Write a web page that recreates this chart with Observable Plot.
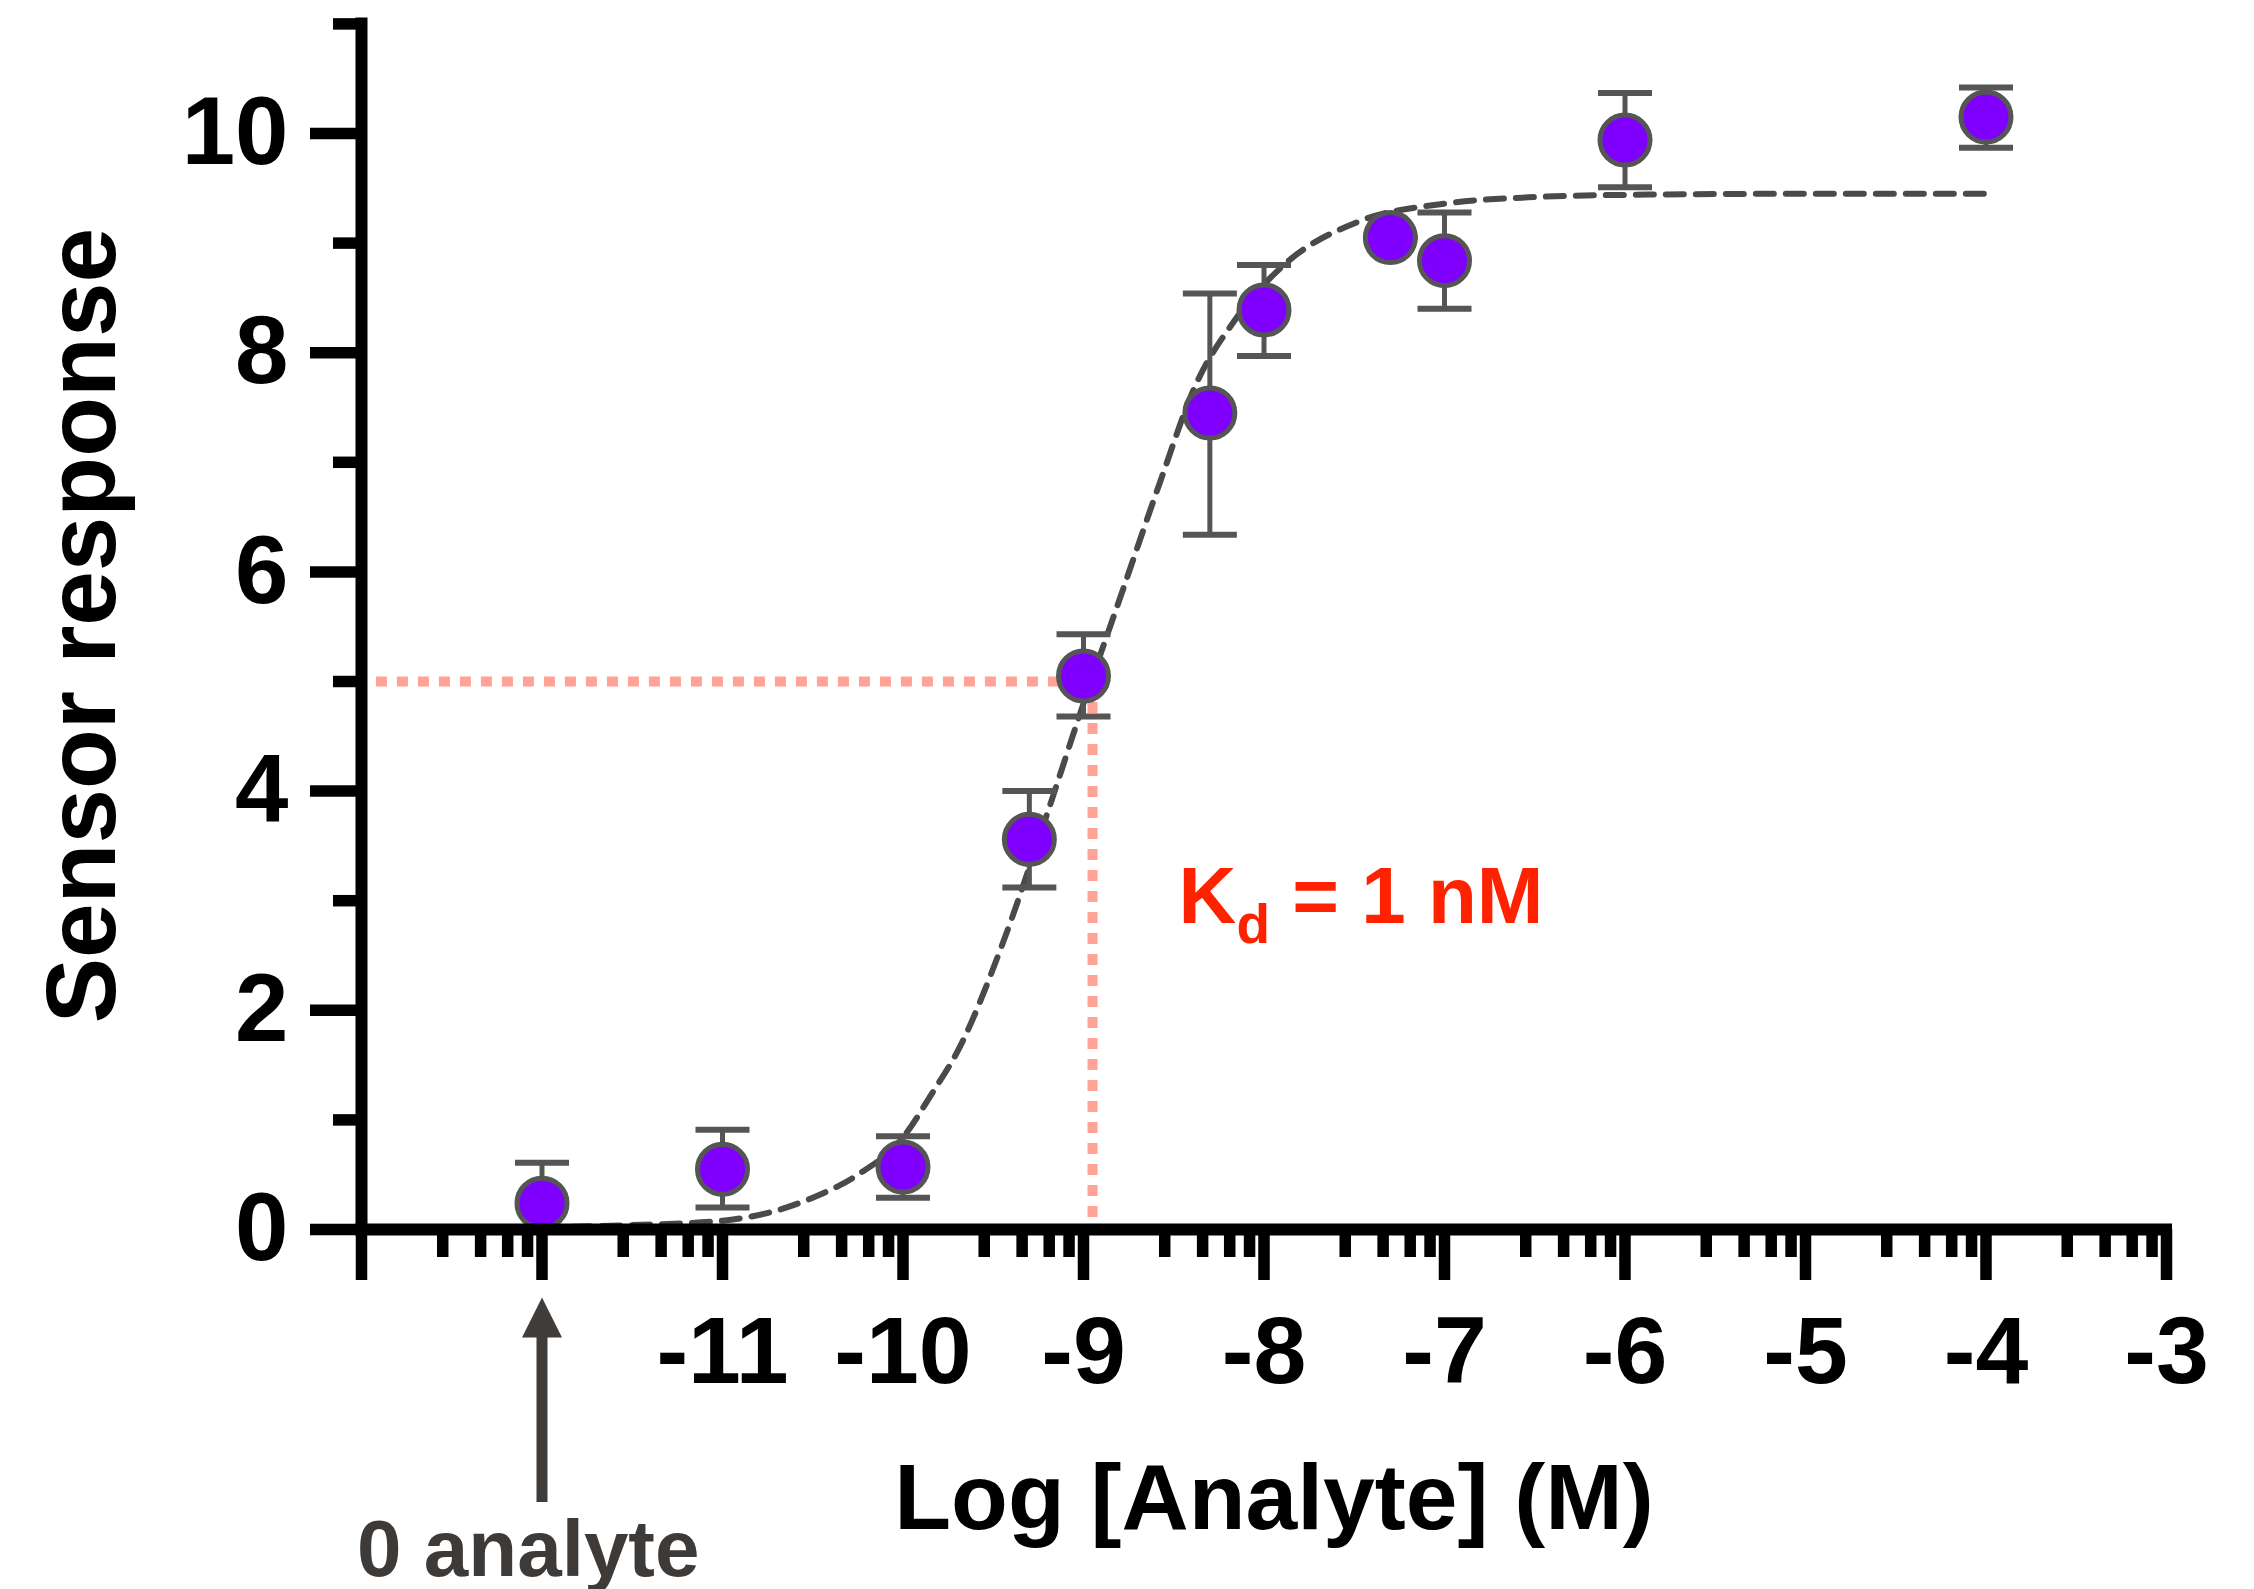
<!DOCTYPE html>
<html>
<head>
<meta charset="utf-8">
<script src="https://cdn.jsdelivr.net/npm/d3@7"></script>
<script src="https://cdn.jsdelivr.net/npm/@observablehq/plot@0.6"></script>
<style>
  html, body { margin: 0; padding: 0; background: #ffffff; }
</style>
</head>
<body>
<div id="chart"></div>
<script>
// ---- measured data (log10 of analyte concentration, sensor response) ----
const logConc  = [-12, -11, -10, -9.3, -9, -8.3, -8, -7.3, -7, -6, -4];
const response = [0.24, 0.55, 0.57, 3.56, 5.05, 7.45, 8.39, 9.05, 8.84, 9.94, 10.15];
const errHigh  = [0.61, 0.91, 0.85, 4.00, 5.43, 8.54, 8.80, 9.05, 9.28, 10.37, 10.42];
const errLow   = [0.00, 0.20, 0.29, 3.12, 4.68, 6.34, 7.97, 9.05, 8.40, 9.51, 9.87];

// ---- fitted curve ----
const fitX = [-12, -11.5, -11, -10.5, -10.25, -10, -9.84, -9.69, -9.45, -9.2, -9.0, -8.8, -8.58, -8.38, -8.16, -7.89, -7.47, -7, -6.5, -6, -5, -4];
const fitY = [0.02, 0.04, 0.08, 0.29, 0.5, 0.84, 1.24, 1.65, 2.6, 3.8, 4.8, 5.75, 6.8, 7.7, 8.3, 8.8, 9.2, 9.36, 9.42, 9.44, 9.45, 9.45];

// ---- axes ----
const xDomain = [-13, -3];
const yDomain = [0, 11];
const xMajorTicks = [-13, -12, -11, -10, -9, -8, -7, -6, -5, -4, -3];
const xTickLabels = [-11, -10, -9, -8, -7, -6, -5, -4, -3];
const xMinorFractions = [0.45, 0.66, 0.81, 0.92];
const xMinorTicks = xMajorTicks.slice(0, -1).flatMap(d => xMinorFractions.map(f => d + f));
const yMajorTicks = [0, 2, 4, 6, 8, 10];
const yMinorTicks = [1, 3, 5, 7, 9, 11];

// ---- annotations ----
const kdValue = -8.95;          // log Kd guide
const kdResponse = 5;           // half-max response guide
const guideStartX = -13.15;
const kdLabel = [{x: -8.473, y: 2.80, text: "Kd = 1 nM"}];
const zeroArrow = {x: -12, tail: -2.49, tip: -0.62};
const zeroLabel = [{x: -12.076, y: -3.16, text: "0 analyte"}];
const xTitle = "Log [Analyte] (M)";
const yTitle = "Sensor response";

const points = logConc.map((x, i) => ({x, y: response[i], lo: errLow[i], hi: errHigh[i]}));
const fit = fitX.map((x, i) => ({x, y: fitY[i]}));

const capSymbol = {
  draw(ctx, size) { const r = Math.sqrt(size / Math.PI); ctx.moveTo(-r, 0); ctx.lineTo(r, 0); }
};
const headSymbol = {
  draw(ctx, size) { const r = Math.sqrt(size / Math.PI); ctx.moveTo(0, -r); ctx.lineTo(r, r); ctx.lineTo(-r, r); ctx.closePath(); }
};

const FONT = "'Liberation Sans', Arial, Helvetica, sans-serif";
const GRAY = "#555555";

const chart = Plot.plot({
  width: 2254,
  height: 1589,
  marginLeft: 361,
  marginRight: 88,
  marginTop: 23.4,
  marginBottom: 360,
  style: {fontFamily: FONT, fontWeight: "bold", fontSize: "95px", background: "#ffffff", color: "#000000", overflow: "visible"},
  x: {domain: xDomain, label: null},
  y: {domain: yDomain, label: null},
  marks: [
    // Kd guide lines
    Plot.ruleY([kdResponse], {x1: guideStartX, x2: kdValue, stroke: "#ffa396", strokeWidth: 10, strokeDasharray: "11,10"}),
    Plot.ruleX([kdValue], {y1: kdResponse, y2: -0.05, stroke: "#ffa396", strokeWidth: 10, strokeDasharray: "11,10"}),
    // fitted curve
    Plot.line(fit, {x: "x", y: "y", curve: "monotone-x", stroke: "#4a4a4a", strokeWidth: 6, strokeDasharray: "18,12", strokeLinecap: "round"}),
    // error bars
    Plot.ruleX(points, {x: "x", y1: "lo", y2: "hi", stroke: GRAY, strokeWidth: 5}),
    Plot.dot(points, {x: "x", y: "hi", symbol: capSymbol, r: 27, stroke: GRAY, strokeWidth: 6, fill: "none"}),
    Plot.dot(points, {x: "x", y: "lo", symbol: capSymbol, r: 27, stroke: GRAY, strokeWidth: 6, fill: "none"}),
    // data points
    Plot.dot(points, {x: "x", y: "y", r: 25, fill: "#7f00ff", stroke: GRAY, strokeWidth: 5, fillOpacity: 1}),
    // axes lines
    Plot.ruleY([0], {x1: xDomain[0], x2: xDomain[1], stroke: "#000", strokeWidth: 12, strokeLinecap: "square"}),
    Plot.ruleX([xDomain[0]], {y1: yDomain[0], y2: yDomain[1], stroke: "#000", strokeWidth: 12, strokeLinecap: "square"}),
    // x axis ticks and labels
    Plot.axisX({ticks: xMinorTicks, tickSize: 28, strokeWidth: 11.5, stroke: "#000", fill: "none", label: null}),
    Plot.axisX({ticks: xMajorTicks, tickSize: 51, strokeWidth: 11.5, stroke: "#000", fill: "none", label: null}),
    Plot.axisX({ticks: xTickLabels, tickSize: 0, tickPadding: 86, tickFormat: d => String(d), fill: "#000", fontSize: 95, fontWeight: "bold", label: null}),
    // y axis ticks and labels
    Plot.axisY({ticks: yMinorTicks, tickSize: 28, strokeWidth: 11.5, stroke: "#000", fill: "none", label: null}),
    Plot.axisY({ticks: yMajorTicks, tickSize: 51, tickPadding: 22, strokeWidth: 11.5, stroke: "#000", tickFormat: d => String(d), fill: "#000", fontSize: 96, fontWeight: "bold", label: null}),
    // axis titles
    Plot.text([xTitle], {text: d => d, frameAnchor: "bottom", textAnchor: "middle", lineAnchor: "bottom", dx: 10, dy: 299, fontSize: 93, fontWeight: "bold", fill: "#000"}),
    Plot.text([yTitle], {text: d => d, frameAnchor: "left", textAnchor: "middle", lineAnchor: "bottom", rotate: -90, dx: -247, dy: -1, fontSize: 98, fontWeight: "bold", fill: "#000"}),
    // "0 analyte" arrow
    Plot.ruleX([zeroArrow.x], {y1: zeroArrow.tail, y2: zeroArrow.tip - 0.3, stroke: "#403c3a", strokeWidth: 11}),
    Plot.dot([zeroArrow], {x: "x", y: "tip", symbol: headSymbol, r: 20, dy: 20, fill: "#403c3a", stroke: "none"}),
    Plot.text(zeroLabel, {x: "x", y: "y", text: "text", textAnchor: "middle", lineAnchor: "bottom", fontSize: 80, fontWeight: "bold", fill: "#3d3a38"}),
    // Kd label
    Plot.text(kdLabel, {x: "x", y: "y", text: "text", textAnchor: "start", lineAnchor: "bottom", fontSize: 80, fontWeight: "bold", fill: "#ff2200"})
  ]
});

document.getElementById("chart").appendChild(chart);

// turn "Kd" into K with subscript d
chart.querySelectorAll("text").forEach(el => {
  if (el.textContent === "Kd = 1 nM") {
    const ns = "http://www.w3.org/2000/svg";
    el.textContent = "";
    el.setAttribute("xml:space", "preserve");
    el.style.whiteSpace = "pre";
    const t1 = document.createElementNS(ns, "tspan"); t1.textContent = "K";
    const t2 = document.createElementNS(ns, "tspan"); t2.textContent = "d";
    t2.setAttribute("font-size", "55"); t2.setAttribute("dy", "20");
    const t3 = document.createElementNS(ns, "tspan"); t3.textContent = " = 1 nM";
    t3.setAttribute("dy", "-20");
    el.append(t1, t2, t3);
  }
});
</script>
</body>
</html>
